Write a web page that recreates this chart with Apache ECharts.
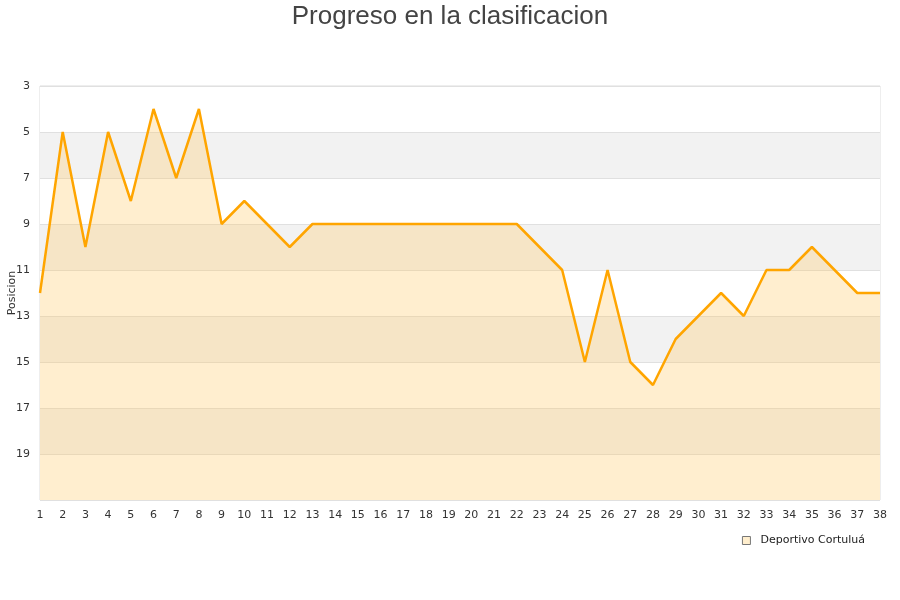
<!DOCTYPE html>
<html><head><meta charset="utf-8">
<script src="https://cdn.jsdelivr.net/npm/echarts@6/dist/echarts.min.js"></script>
<style>html,body{margin:0;padding:0;background:#fff}#c{width:900px;height:600px}</style>
</head><body><div id="c"></div>
<script>
const jornadas = ['1','2','3','4','5','6','7','8','9','10','11','12','13','14','15','16','17','18','19','20','21','22','23','24','25','26','27','28','29','30','31','32','33','34','35','36','37','38'];
const posiciones = [12,5,10,5,8,4,7,4,9,8,9,10,9,9,9,9,9,9,9,9,9,9,10,11,15,11,15,16,14,13,12,13,11,11,10,11,12,12];
const teamName = 'Deportivo Cortuluá';
const chart = echarts.init(document.getElementById('c'));
chart.setOption({
  animation:false,
  title:{text:'Progreso en la clasificacion',left:'center',top:-1,textStyle:{fontFamily:'Liberation Sans',fontSize:26,fontWeight:'normal',color:'#444'}},
  legend:{right:30,top:530,itemWidth:8,itemHeight:8,icon:'rect',itemGap:6,textStyle:{fontFamily:'DejaVu Sans',fontSize:11,color:'#222',padding:[0,0,0,5]},
    data:[{name:teamName,itemStyle:{color:'#ffeecd',borderColor:'#777',borderWidth:1}}]},
  grid:{left:40,right:20,top:86,bottom:100,containLabel:false,outerBoundsMode:'none',show:true,borderColor:'#ddd',borderWidth:1},
  xAxis:{type:'category',data:jornadas,boundaryGap:false,
    axisLine:{show:false},axisTick:{show:false},
    axisLabel:{fontFamily:'DejaVu Sans',fontSize:11,color:'#333',margin:10,interval:0},
    splitLine:{show:false}},
  yAxis:{type:'value',inverse:true,min:3,max:21,interval:2,name:'Posicion',nameLocation:'middle',nameGap:22,nameMoveOverlap:false,
    nameTextStyle:{fontFamily:'DejaVu Sans',fontSize:11,color:'#333'},
    axisLine:{show:false},axisTick:{show:false},
    axisLabel:{fontFamily:'DejaVu Sans',fontSize:11,color:'#333',margin:10,formatter:v=>v===21?'':v},
    splitLine:{show:true,lineStyle:{color:'#e0e0e0'}},
    splitArea:{show:true,areaStyle:{color:['#ffffff','#f2f2f2']}}},
  series:[{name:teamName,type:'line',data:posiciones,symbol:'none',
    lineStyle:{color:'#ffa500',width:2.5},itemStyle:{color:'#ffa500'},
    areaStyle:{color:'#ffc864',opacity:0.31,origin:'end'}}]
});
</script></body></html>
